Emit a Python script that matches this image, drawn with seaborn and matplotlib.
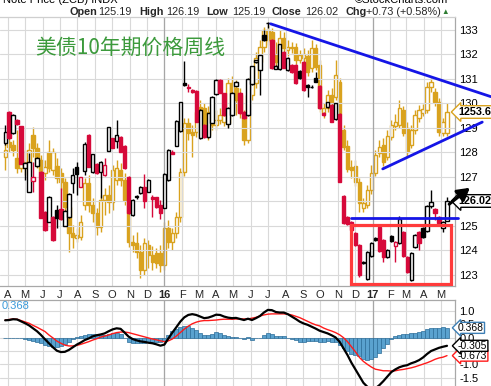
import matplotlib
matplotlib.use("Agg")
import matplotlib.pyplot as plt
import numpy as np
import pandas as pd
import seaborn as sns
from matplotlib.patches import Rectangle
from matplotlib.transforms import blended_transform_factory

sns.set_theme(style="white")
plt.rcParams["font.family"] = ["Liberation Sans", "DejaVu Sans", "Noto Sans CJK SC"]
plt.rcParams["axes.unicode_minus"] = False

W, H, DPI = 491, 386, 100

# ---- data -----------------------------------------------------------------
# weekly bars (Friday closes)
weeks = pd.date_range(end="2017-05-12", periods=112, freq="W-FRI")

# 10-year T-note, weekly OHLC
note_open = [128.37, 129.67, 128.78, 129.33, 129.08, 127.38, 126.37, 126.85, 127.46, 127.22,
             125.59, 125.18, 125.38, 125.65, 125.68, 125.01, 125.37, 126.74, 127.41, 126.61,
             127.26, 128.71, 127.19, 127.53, 127.19, 127.07, 128.07, 128.58, 128.47, 128.65,
             128.27, 127.00, 125.45, 126.19, 126.33, 126.58, 126.40, 126.18, 126.18, 125.86,
             125.75, 126.88, 128.03, 128.27, 128.88, 130.84, 130.67, 130.55, 130.51, 128.59,
             129.12, 128.62, 129.22, 130.39, 130.96, 130.41, 129.16, 129.53, 130.73, 130.41,
             129.67, 129.53, 130.78, 131.68, 131.37, 132.80, 133.30, 132.59, 131.42, 131.41,
             132.12, 131.37, 131.57, 131.57, 131.33, 131.71, 130.76, 130.66, 131.05, 130.71,
             129.63, 129.84, 129.94, 129.35, 129.57, 126.23, 125.37, 125.16, 124.71, 124.22,
             123.49, 122.84, 123.77, 124.51, 124.96, 124.43, 123.73, 124.59, 124.18, 124.31,
             124.75, 123.73, 122.80, 124.14, 124.75, 124.92, 124.80, 125.80, 125.69, 125.37,
             124.92, 125.19]
note_high = [129.12, 129.70, 129.56, 129.35, 129.10, 127.63, 127.97, 127.63, 127.83, 127.24,
             125.61, 126.22, 125.41, 125.86, 126.54, 125.65, 126.33, 127.35, 127.63, 127.01,
             128.44, 128.74, 127.95, 127.56, 127.64, 127.76, 129.05, 128.61, 129.33, 128.67,
             128.30, 127.05, 126.10, 126.28, 126.62, 127.11, 126.90, 126.27, 126.20, 126.06,
             127.15, 128.13, 128.10, 129.32, 130.08, 131.73, 130.81, 130.58, 130.53, 129.78,
             129.15, 129.63, 130.30, 131.00, 130.99, 130.43, 129.84, 130.46, 130.90, 130.45,
             129.70, 131.02, 131.55, 131.79, 131.99, 133.00, 133.32, 132.62, 131.58, 132.44,
             132.15, 131.90, 131.60, 131.60, 131.36, 131.74, 130.80, 130.74, 131.30, 130.74,
             129.66, 130.08, 129.97, 130.04, 129.60, 126.25, 125.40, 125.20, 124.75, 124.25,
             123.56, 123.97, 124.33, 124.55, 125.00, 124.46, 124.05, 124.62, 124.38, 125.41,
             124.78, 123.76, 123.93, 124.66, 124.78, 124.95, 125.85, 126.47, 125.72, 125.40,
             125.19, 126.19]
note_low = [128.31, 128.55, 128.76, 129.12, 127.52, 126.88, 126.37, 126.40, 127.42, 125.31,
            124.81, 125.15, 124.40, 124.90, 125.26, 124.99, 125.34, 126.33, 126.26, 126.58,
            127.08, 127.39, 127.16, 127.12, 126.13, 127.04, 128.05, 128.17, 128.17, 128.01,
            127.32, 125.50, 125.42, 126.12, 126.30, 125.72, 126.37, 125.38, 125.75, 125.29,
            125.72, 126.85, 127.92, 128.25, 128.85, 130.73, 130.46, 130.43, 129.23, 128.55,
            128.60, 128.58, 129.20, 130.35, 130.41, 129.50, 129.00, 129.50, 130.70, 129.57,
            129.35, 129.50, 130.75, 131.65, 130.35, 132.56, 133.10, 131.40, 131.40, 131.38,
            131.43, 131.34, 131.24, 130.79, 131.00, 130.52, 130.28, 130.62, 130.86, 129.77,
            129.50, 129.80, 129.23, 129.32, 126.78, 125.10, 125.05, 124.80, 124.18, 122.92,
            123.46, 122.80, 123.74, 124.40, 123.94, 123.53, 123.70, 124.36, 123.53, 124.28,
            123.74, 123.08, 122.77, 124.11, 124.02, 124.52, 124.77, 125.75, 125.24, 125.09,
            124.75, 125.19]
note_close = [128.85, 128.58, 129.53, 129.16, 127.54, 127.57, 127.63, 126.99, 127.79, 125.34,
              124.84, 126.20, 124.43, 125.31, 125.29, 125.61, 126.31, 127.08, 127.11, 126.99,
              128.33, 127.42, 127.92, 127.15, 127.61, 127.48, 129.03, 128.20, 128.70, 128.03,
              127.35, 125.54, 126.06, 126.21, 126.58, 126.03, 126.86, 126.10, 125.78, 125.53,
              127.11, 128.10, 127.95, 129.29, 130.05, 130.76, 130.64, 130.46, 129.26, 129.74,
              128.63, 129.60, 130.28, 130.96, 130.44, 129.53, 129.80, 130.41, 130.86, 129.60,
              129.39, 130.99, 131.53, 131.76, 131.98, 132.59, 133.27, 131.44, 131.55, 132.41,
              131.46, 131.87, 131.27, 130.82, 131.03, 130.55, 130.67, 130.69, 130.89, 129.80,
              129.53, 130.05, 129.26, 130.01, 126.81, 125.12, 125.08, 124.84, 124.22, 123.00,
              123.53, 123.94, 124.30, 124.43, 123.98, 123.73, 124.02, 124.39, 124.35, 125.29,
              123.77, 123.12, 123.90, 124.63, 124.31, 124.55, 125.82, 125.98, 125.53, 125.12,
              125.16, 126.02]

# gold overlay (USD), weekly OHLC
gold_open = [1195, 1215, 1211, 1194, 1181, 1182, 1189, 1224, 1207, 1191,
             1174, 1202, 1178, 1183, 1174, 1163, 1130, 1096, 1090, 1091,
             1133, 1161, 1133, 1122, 1104, 1139, 1146, 1137, 1165, 1178,
             1165, 1133, 1085, 1083, 1072, 1048, 1081, 1068, 1070, 1070,
             1055, 1103, 1085, 1096, 1117, 1176, 1239, 1228, 1228, 1260,
             1259, 1224, 1243, 1237, 1243, 1241, 1239, 1291, 1285, 1276,
             1247, 1217, 1276, 1291, 1319, 1338, 1360, 1358, 1328, 1324,
             1350, 1334, 1337, 1338, 1321, 1324, 1326, 1311, 1337, 1315,
             1252, 1259, 1276, 1273, 1293, 1230, 1209, 1182, 1183, 1163,
             1129, 1133, 1152, 1174, 1200, 1211, 1195, 1221, 1235, 1237,
             1256, 1233, 1211, 1230, 1246, 1252, 1256, 1286, 1280, 1267,
             1226, 1226]
gold_high = [1217, 1224, 1217, 1230, 1202, 1204, 1213, 1234, 1213, 1198,
             1191, 1217, 1207, 1194, 1181, 1168, 1139, 1107, 1103, 1120,
             1168, 1172, 1142, 1129, 1146, 1155, 1159, 1185, 1191, 1187,
             1174, 1139, 1094, 1098, 1081, 1090, 1087, 1079, 1077, 1081,
             1111, 1113, 1103, 1124, 1181, 1246, 1246, 1237, 1263, 1269,
             1265, 1261, 1254, 1256, 1259, 1256, 1298, 1300, 1295, 1285,
             1256, 1282, 1306, 1332, 1347, 1364, 1367, 1363, 1345, 1360,
             1358, 1347, 1345, 1343, 1334, 1337, 1334, 1347, 1342, 1321,
             1265, 1282, 1285, 1321, 1298, 1237, 1217, 1191, 1191, 1168,
             1142, 1159, 1185, 1204, 1217, 1220, 1230, 1243, 1251, 1269,
             1261, 1241, 1237, 1256, 1263, 1264, 1293, 1298, 1285, 1272,
             1246, 1265]
gold_low = [1178, 1202, 1196, 1174, 1176, 1172, 1183, 1195, 1181, 1168,
            1165, 1176, 1172, 1161, 1152, 1124, 1072, 1077, 1085, 1087,
            1126, 1124, 1111, 1094, 1098, 1120, 1122, 1126, 1159, 1157,
            1133, 1078, 1072, 1064, 1038, 1042, 1051, 1048, 1051, 1046,
            1048, 1077, 1074, 1090, 1111, 1170, 1217, 1195, 1221, 1243,
            1226, 1217, 1230, 1230, 1238, 1235, 1234, 1272, 1250, 1246,
            1211, 1213, 1269, 1285, 1313, 1332, 1341, 1328, 1312, 1319,
            1332, 1326, 1330, 1316, 1317, 1319, 1300, 1306, 1308, 1254,
            1246, 1254, 1259, 1269, 1246, 1204, 1176, 1168, 1157, 1124,
            1124, 1129, 1147, 1170, 1195, 1183, 1191, 1217, 1230, 1233,
            1222, 1196, 1207, 1225, 1241, 1248, 1252, 1280, 1261, 1222,
            1222, 1222]
gold_close = [1204, 1208, 1204, 1181, 1191, 1189, 1204, 1207, 1191, 1176,
              1182, 1181, 1202, 1168, 1163, 1130, 1096, 1091, 1094, 1111,
              1161, 1133, 1122, 1104, 1139, 1146, 1137, 1178, 1181, 1165,
              1139, 1085, 1081, 1072, 1048, 1083, 1068, 1059, 1057, 1055,
              1103, 1085, 1096, 1117, 1176, 1239, 1226, 1224, 1254, 1250,
              1234, 1254, 1237, 1243, 1250, 1250, 1291, 1278, 1269, 1254,
              1217, 1276, 1299, 1324, 1338, 1360, 1347, 1345, 1319, 1350,
              1337, 1338, 1338, 1321, 1328, 1329, 1306, 1337, 1312, 1259,
              1259, 1276, 1265, 1302, 1251, 1208, 1180, 1178, 1163, 1135,
              1135, 1152, 1174, 1198, 1208, 1189, 1222, 1237, 1241, 1259,
              1226, 1202, 1230, 1250, 1256, 1258, 1286, 1293, 1267, 1228,
              1241, 1253.6]

# MACD(12,26,9) of the note
macd_line = [0.65, 0.66, 0.69, 0.68, 0.61, 0.54, 0.46, 0.35, 0.24, 0.10,
             -0.06, -0.21, -0.36, -0.49, -0.54, -0.53, -0.46, -0.36, -0.26, -0.18,
             -0.09, -0.03, 0.05, 0.09, 0.12, 0.16, 0.24, 0.31, 0.35, 0.33,
             0.19, 0.04, -0.05, -0.10, -0.14, -0.16, -0.19, -0.21, -0.25, -0.30,
             -0.26, -0.03, 0.19, 0.39, 0.60, 0.76, 0.85, 0.88, 0.85, 0.79,
             0.73, 0.75, 0.80, 0.86, 0.85, 0.79, 0.75, 0.73, 0.74, 0.70,
             0.66, 0.71, 0.66, 0.73, 0.81, 0.94, 1.04, 1.03, 0.96, 0.94,
             0.94, 0.88, 0.79, 0.70, 0.60, 0.53, 0.48, 0.41, 0.34, 0.26,
             0.21, 0.16, 0.09, 0.01, -0.15, -0.40, -0.65, -0.94, -1.19, -1.44,
             -1.69, -1.84, -1.91, -1.90, -1.78, -1.63, -1.46, -1.29, -1.19, -1.11,
             -1.06, -1.03, -0.96, -0.91, -0.84, -0.74, -0.61, -0.50, -0.44, -0.38,
             -0.34, -0.305]
signal_line = [0.66, 0.68, 0.70, 0.69, 0.64, 0.59, 0.54, 0.46, 0.39, 0.31,
               0.23, 0.10, -0.01, -0.13, -0.21, -0.28, -0.31, -0.31, -0.29, -0.25,
               -0.20, -0.15, -0.09, -0.04, 0.02, 0.06, 0.10, 0.15, 0.19, 0.21,
               0.21, 0.19, 0.15, 0.11, 0.07, 0.03, -0.01, -0.05, -0.08, -0.12,
               -0.15, -0.12, -0.05, 0.06, 0.19, 0.32, 0.43, 0.52, 0.58, 0.62,
               0.64, 0.64, 0.65, 0.66, 0.68, 0.69, 0.69, 0.69, 0.70, 0.70,
               0.70, 0.70, 0.73, 0.76, 0.81, 0.85, 0.88, 0.89, 0.89, 0.89,
               0.89, 0.88, 0.85, 0.80, 0.75, 0.68, 0.61, 0.54, 0.48, 0.44,
               0.36, 0.30, 0.25, 0.19, 0.11, 0.00, -0.15, -0.34, -0.53, -0.74,
               -0.89, -1.00, -1.10, -1.18, -1.21, -1.24, -1.24, -1.25, -1.24, -1.21,
               -1.19, -1.16, -1.13, -1.09, -1.04, -0.99, -0.94, -0.88, -0.81, -0.76,
               -0.73, -0.673]

# hand-drawn annotations (date, note price)
resist_x = pd.to_datetime(["2016-07-06", "2017-07-28"])
resist_y = [133.25, 130.28]
support_x = pd.to_datetime(["2017-01-19", "2017-07-13"])
support_y = [127.33, 129.24]
neck_x = pd.to_datetime(["2016-11-24", "2017-05-31"])
neck_y = [125.33, 125.33]
box_x = pd.to_datetime(["2016-11-24", "2017-05-19"])
box_y = [122.63, 125.04]
arrow_x = pd.to_datetime(["2017-05-12", "2017-06-25"])
arrow_y = [125.82, 126.63]

price_ticks = list(range(123, 134))
macd_ticks = [1.0, 0.5, 0.0, -0.5, -1.0, -1.5]
months = pd.date_range("2015-04-01", "2017-05-01", freq="MS")

RED = "#d6093a"
GOLD = "#d9a21e"
BLUE = "#1515e6"

# ---- layout ---------------------------------------------------------------
fig = plt.figure(figsize=(W / DPI, H / DPI), dpi=DPI)


def px_axes(x0, y0, x1, y1, **kw):
    return fig.add_axes([x0 / W, 1 - y1 / H, (x1 - x0) / W, (y1 - y0) / H], **kw)


def ftext(x, y, s, **kw):
    return fig.text(x / W, 1 - y / H, s, **kw)


ax = px_axes(0, 17, 455, 286)
axm = px_axes(0, 300, 455, 386, sharex=ax)
axg = ax.twinx()
axg.set_zorder(1)
ax.set_zorder(2)
ax.patch.set_visible(False)

ax.set_xlim(pd.Timestamp("2015-03-17 22:00"), pd.Timestamp("2017-05-26 02:00"))
ax.set_ylim(122.55, 133.53)
axg.set_ylim(1027.4, 1377.1)
axm.set_ylim(-1.81, 1.41)


def candles(a, o, h, l, c, edge, min_h, width=5.8, lw=1.0, z=2):
    o, h, l, c = (np.asarray(v, float) for v in (o, h, l, c))
    edge = np.asarray(edge)
    face = np.where(c > o, "white", edge)
    a.vlines(weeks, l, h, colors=edge, lw=lw, zorder=z)
    a.bar(weeks, np.maximum(np.abs(c - o), min_h), bottom=np.minimum(o, c),
          width=width, color=face, edgecolor=edge, linewidth=lw, zorder=z + 0.5)


# gold underneath
candles(axg, gold_open, gold_high, gold_low, gold_close, [GOLD] * len(weeks), 1.0)

# note: black when close is up on the week, red when down
nc = np.asarray(note_close)
note_edge = np.where(np.r_[True, nc[1:] >= nc[:-1]], "black", RED)
candles(ax, note_open, note_high, note_low, note_close, note_edge, 0.03)

# MACD panel
hist = np.asarray(macd_line) - np.asarray(signal_line)
axm.bar(weeks, hist, width=7, color="#5aa2cf", edgecolor="#2c6d99", linewidth=0.5, zorder=2)
sns.lineplot(x=weeks, y=signal_line, ax=axm, color="#ff1a1a", lw=1.0, zorder=3)
sns.lineplot(x=weeks, y=macd_line, ax=axm, color="black", lw=1.6, zorder=4)

# grids, ticks, frames
labels = [d.strftime("%y") if d.month == 1 else d.strftime("%b")[0] for d in months]
ax.set_xticks(months)
ax.set_xticklabels(labels)
for t, d in zip(ax.get_xticklabels(), months):
    if d.month == 1:
        t.set_fontweight("bold")
ax.tick_params(axis="x", length=0, pad=3, labelsize=8)
axm.tick_params(axis="x", labelbottom=False, length=0)

for a in (ax, axm):
    a.grid(True, color="#d9d9d9", lw=0.8)
    a.set_axisbelow(True)
    for d in months[months.month == 1]:
        a.axvline(d, color="#a6a6a6", lw=0.9, zorder=0.8)
    a.yaxis.tick_right()
    a.tick_params(axis="y", length=0, pad=3, labelsize=8, labelcolor="black")
    a.spines["left"].set_visible(False)
    for s in ("top", "right", "bottom"):
        a.spines[s].set_color("#a8a8a8")
        a.spines[s].set_linewidth(0.9)
    a.set_xlabel("")
    a.set_ylabel("")
axm.spines["bottom"].set_visible(False)
ax.spines["top"].set_color("#cfcfcf")

ax.set_yticks(price_ticks)
ax.set_yticklabels([str(v) for v in price_ticks])
axm.set_yticks(macd_ticks)
axm.set_yticklabels([f"{v:.1f}" for v in macd_ticks])
axg.set_yticks([])
for s in axg.spines.values():
    s.set_visible(False)

# annotations
ax.plot(resist_x, resist_y, color=BLUE, lw=2.0, clip_on=False, zorder=6)
ax.plot(support_x, support_y, color=BLUE, lw=2.0, clip_on=False, zorder=6)
ax.plot(neck_x, neck_y, color=BLUE, lw=2.0, clip_on=False, zorder=6)
x0, x1 = (ax.xaxis.convert_units(v) for v in box_x)
ax.add_patch(Rectangle((x0, box_y[0]), x1 - x0, box_y[1] - box_y[0], fill=False,
                       ec="#ff3b3b", lw=2.3, zorder=7))


def tag(a, y, text, transform, ec, bold=False, size=7.8, pad=0.12):
    a.text(1.0 + 3 / 455, y, text, transform=transform, ha="left", va="center",
           fontsize=size, fontweight="bold" if bold else "normal", color="black",
           bbox=dict(boxstyle=f"larrow,pad={pad}", fc="white", ec=ec, lw=1.0),
           clip_on=False, zorder=20)


tag(ax, note_close[-1], f"{note_close[-1]:.2f}",
    blended_transform_factory(ax.transAxes, ax.transData), "black", bold=True)
tag(ax, gold_close[-1], f"{gold_close[-1]:.2f}",
    blended_transform_factory(ax.transAxes, axg.transData), GOLD, bold=True)
trm = blended_transform_factory(axm.transAxes, axm.transData)
tag(axm, hist[-1], f"{hist[-1]:.3f}", trm, "#3d7fb5", size=7.5, pad=0.05)
tag(axm, signal_line[-1], f"{signal_line[-1]:.3f}", trm, "#ff1a1a", size=7.5, pad=0.05)
tag(axm, macd_line[-1], f"{macd_line[-1]:.3f}", trm, "black", size=7.5, pad=0.05)

# breakout arrow drawn over the price tag
ax.annotate("", xy=(arrow_x[1], arrow_y[1]), xytext=(arrow_x[0], arrow_y[0]),
            arrowprops=dict(arrowstyle="-|>,head_length=0.6,head_width=0.35",
                            color="black", lw=2.2), annotation_clip=False, zorder=30)

# header
ftext(3, 0, "Note Price (ZCB) INDX", fontsize=8, va="center", color="black")
ftext(448, 0, "\u00a9StockCharts.com", fontsize=8, va="center", ha="right", color="black")
hdr = [(69, "Open", True), (98, "125.19", False), (139, "High", True), (166, "126.19", False),
       (206, "Low", True), (232, "125.19", False), (272, "Close", True), (305, "126.02", False),
       (345, "Chg", True), (366, "+0.73 (+0.58%)", False)]
for x, s, b in hdr:
    ftext(x, 12, s, fontsize=7.8, va="center", fontweight="bold" if b else "normal")
ftext(441, 12, "\u25b2", fontsize=5.5, va="center", color="#2e7d32")
ftext(35, 48, "美债10年期价格周线", fontsize=15, va="center", color="#3c9a3c",
      family=["Noto Sans CJK SC"])
ftext(2, 306, "0.368", fontsize=8, va="center", color="#3a9ad9")

fig.savefig("out.png", dpi=DPI)
